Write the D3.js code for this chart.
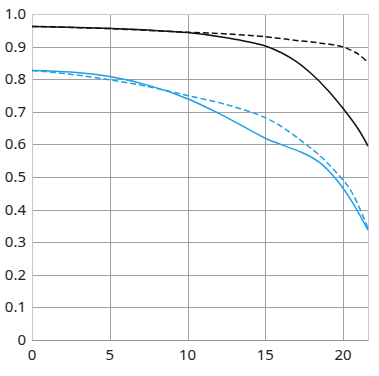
<!DOCTYPE html>
<head>
  <meta charset="utf-8">
  <title>MTF chart</title>
  <script src="https://d3js.org/d3.v7.min.js"></script>
  <style>
    body { margin: 0; background: #fff; }
    text { font-family: "Noto Sans", sans-serif; font-size: 15px; fill: #222; }
  </style>
</head>
<body>
<svg width="379" height="376"></svg>

<script type="text/javascript">

// image heights (mm) where readings were taken
var heights     = [0, 5, 10, 12.5, 15, 16, 17, 18, 19, 20, 21, 21.6];
var heightsBlue = [0, 2.5, 5, 7.5, 10, 12.5, 15, 16.5, 17.5, 18.5, 19.5, 20.5, 21.6];

// contrast readings
var blackSolid  = [0.962, 0.956, 0.943, 0.927, 0.902, 0.882, 0.854, 0.815, 0.767, 0.710, 0.645, 0.595];
var blackDashed = [0.962, 0.955, 0.944, 0.939, 0.930, 0.925, 0.919, 0.914, 0.908, 0.899, 0.876, 0.851];
var blueSolid   = [0.827, 0.822, 0.808, 0.781, 0.740, 0.683, 0.619, 0.591, 0.572, 0.544, 0.496, 0.430, 0.337];
var blueDashed  = [0.827, 0.815, 0.798, 0.777, 0.750, 0.722, 0.682, 0.640, 0.604, 0.566, 0.517, 0.458, 0.343];

var xTicks = [0, 5, 10, 15, 20];
var yTicks = [0, 0.1, 0.2, 0.3, 0.4, 0.5, 0.6, 0.7, 0.8, 0.9, 1.0];

var svg = d3.select("svg");
var plotLeft = 32, plotRight = 368, plotTop = 14, plotBottom = 340;

var x = d3.scaleLinear().domain([0, 21.6]).range([plotLeft, plotRight]);
var y = d3.scaleLinear().domain([0, 1]).range([plotBottom, plotTop]);

// grid lines
svg.append("g").selectAll("line")
  .data(yTicks.slice(1, -1))
  .enter().append("line")
    .attr("x1", plotLeft).attr("x2", plotRight)
    .attr("y1", function(d) { return Math.round(y(d)) + 0.5; })
    .attr("y2", function(d) { return Math.round(y(d)) + 0.5; })
    .style("stroke", "#a0a0a0");

svg.append("g").selectAll("line")
  .data(xTicks.slice(1))
  .enter().append("line")
    .attr("y1", plotTop).attr("y2", plotBottom)
    .attr("x1", function(d) { return Math.round(x(d)) + 0.5; })
    .attr("x2", function(d) { return Math.round(x(d)) + 0.5; })
    .style("stroke", "#a0a0a0");

// frame
svg.append("rect")
  .attr("x", plotLeft + 0.5).attr("y", plotTop + 0.5)
  .attr("width", plotRight - plotLeft).attr("height", plotBottom - plotTop)
  .style("fill", "none").style("stroke", "#c8c8c8");
svg.append("line")
  .attr("x1", plotLeft).attr("x2", plotRight)
  .attr("y1", plotBottom + 0.5).attr("y2", plotBottom + 0.5)
  .style("stroke", "#999");

// tick labels
svg.append("g").selectAll("text")
  .data(yTicks)
  .enter().append("text")
    .attr("x", 26)
    .attr("y", function(d) { return y(d) + 5; })
    .attr("text-anchor", "end")
    .text(function(d) { return d === 0 ? "0" : d.toFixed(1); });

svg.append("g").selectAll("text")
  .data(xTicks)
  .enter().append("text")
    .attr("x", function(d) { return x(d); })
    .attr("y", 360)
    .attr("text-anchor", "middle")
    .text(function(d) { return d; });

// curves
var series = [
  { xs: heights,     values: blackDashed, color: "#111", dash: "6,3" },
  { xs: heights,     values: blackSolid,  color: "#111", dash: null },
  { xs: heightsBlue, values: blueDashed,  color: "#1ea0e6", dash: "6,3" },
  { xs: heightsBlue, values: blueSolid,   color: "#1ea0e6", dash: null }
];

svg.append("g").selectAll("path")
  .data(series)
  .enter().append("path")
    .attr("d", function(s) {
      return d3.line()
        .x(function(d, i) { return x(s.xs[i]); })
        .y(function(d) { return y(d); })
        .curve(d3.curveCatmullRom.alpha(0.5))(s.values);
    })
    .style("fill", "none")
    .style("stroke", function(d) { return d.color; })
    .style("stroke-width", 1.5)
    .style("stroke-dasharray", function(d) { return d.dash; });

</script>
</body>
</html>
